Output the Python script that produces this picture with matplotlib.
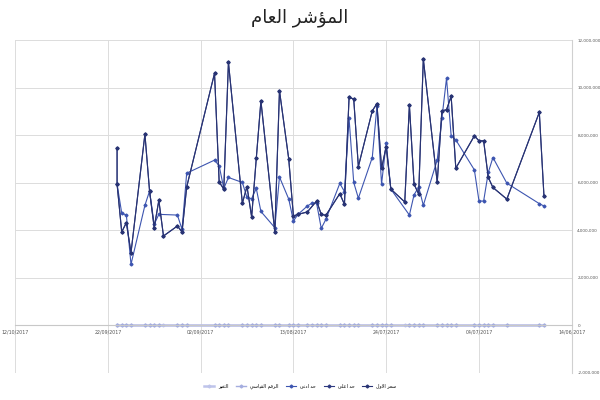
import numpy as np
import pandas as pd
import matplotlib
matplotlib.use('Agg')
from matplotlib import pyplot as plt
import matplotlib.dates as mdates
from matplotlib.ticker import FuncFormatter, MultipleLocator

# عنوان ووسيلة الإيضاح
title = 'المؤشر العام'
series_names = ['سعر الاول', 'حد اعلى', 'حد ادنى', 'الرقم القياسي', 'التغير']

# السلسلة الداكنة
dark_dates = ['2017-09-20', '2017-09-20', '2017-09-19', '2017-09-18', '2017-09-17',
              '2017-09-14', '2017-09-13', '2017-09-12', '2017-09-11', '2017-09-10',
              '2017-09-07', '2017-09-06', '2017-09-05', '2017-08-30', '2017-08-29',
              '2017-08-28', '2017-08-27', '2017-08-24', '2017-08-23', '2017-08-22',
              '2017-08-21', '2017-08-20', '2017-08-17', '2017-08-16', '2017-08-14',
              '2017-08-13', '2017-08-12', '2017-08-10', '2017-08-08', '2017-08-07',
              '2017-08-06', '2017-08-03', '2017-08-02', '2017-08-01', '2017-07-31',
              '2017-07-30', '2017-07-27', '2017-07-26', '2017-07-25', '2017-07-24',
              '2017-07-23', '2017-07-20', '2017-07-19', '2017-07-18', '2017-07-17',
              '2017-07-16', '2017-07-13', '2017-07-12', '2017-07-11', '2017-07-10',
              '2017-07-09', '2017-07-05', '2017-07-04', '2017-07-03', '2017-07-02',
              '2017-07-01', '2017-06-28', '2017-06-21', '2017-06-20']
dark_vals = [7.44, 5.94, 3.93, 4.32, 3.06, 8.04, 5.65, 4.11, 5.26, 3.76,
             4.18, 3.93, 5.82, 10.6, 6.03, 5.73, 11.06, 5.14, 5.84, 4.56,
             7.02, 9.44, 3.93, 9.87, 6.99, 4.60, 4.67, 4.77, 5.23, 4.67,
             4.63, 5.54, 5.09, 9.59, 9.52, 6.68, 9.02, 9.33, 6.60, 7.52,
             5.73, 5.19, 9.26, 5.94, 5.52, 11.2, 6.01, 9.02, 9.07, 9.63,
             6.61, 7.97, 7.76, 7.76, 6.22, 5.80, 5.31, 8.96, 5.44]

# السلسلة الزرقاء
blue_dates = ['2017-09-20', '2017-09-19', '2017-09-18', '2017-09-17', '2017-09-14',
              '2017-09-13', '2017-09-12', '2017-09-11', '2017-09-07', '2017-09-06',
              '2017-09-05', '2017-08-30', '2017-08-29', '2017-08-28', '2017-08-27',
              '2017-08-24', '2017-08-23', '2017-08-22', '2017-08-21', '2017-08-20',
              '2017-08-17', '2017-08-16', '2017-08-14', '2017-08-13', '2017-08-12',
              '2017-08-10', '2017-08-09', '2017-08-08', '2017-08-07', '2017-08-06',
              '2017-08-03', '2017-08-02', '2017-08-01', '2017-07-31', '2017-07-30',
              '2017-07-27', '2017-07-26', '2017-07-25', '2017-07-24', '2017-07-23',
              '2017-07-19', '2017-07-18', '2017-07-17', '2017-07-16', '2017-07-13',
              '2017-07-12', '2017-07-11', '2017-07-10', '2017-07-09', '2017-07-05',
              '2017-07-04', '2017-07-03', '2017-07-02', '2017-07-01', '2017-06-28',
              '2017-06-21', '2017-06-20']
blue_vals = [5.94, 4.72, 4.64, 2.57, 5.05, 5.65, 4.25, 4.67, 4.64, 4.04,
             6.40, 6.95, 6.71, 5.76, 6.22, 6.01, 5.38, 5.33, 5.76, 4.79,
             4.11, 6.24, 5.31, 4.39, 4.67, 5.02, 5.14, 5.14, 4.08, 4.46,
             5.97, 5.63, 8.70, 6.01, 5.35, 7.06, 9.21, 5.94, 7.69, 5.73,
             4.64, 5.49, 5.82, 5.05, 6.96, 8.70, 10.39, 7.97, 7.80, 6.54,
             5.23, 5.23, 6.43, 7.06, 5.98, 5.12, 5.02]

# السلاسل القريبة من الصفر
index_vals = [0] * len(dark_dates)
change_vals = [0] * len(blue_dates)

x_start = '2017-10-12'
x_end = '2017-06-14'


# تشكيل الحروف العربية (matplotlib لا يربط الحروف)
FORMS = {
    'ا': ('\uFE8D', '\uFE8E', None, None),
    'ؤ': ('\uFE85', '\uFE86', None, None),
    'ة': ('\uFE93', '\uFE94', None, None),
    'ت': ('\uFE95', '\uFE96', '\uFE97', '\uFE98'),
    'ح': ('\uFEA1', '\uFEA2', '\uFEA3', '\uFEA4'),
    'د': ('\uFEA9', '\uFEAA', None, None),
    'ر': ('\uFEAD', '\uFEAE', None, None),
    'س': ('\uFEB1', '\uFEB2', '\uFEB3', '\uFEB4'),
    'ش': ('\uFEB5', '\uFEB6', '\uFEB7', '\uFEB8'),
    'ع': ('\uFEC9', '\uFECA', '\uFECB', '\uFECC'),
    'غ': ('\uFECD', '\uFECE', '\uFECF', '\uFED0'),
    'ق': ('\uFED5', '\uFED6', '\uFED7', '\uFED8'),
    'ك': ('\uFED9', '\uFEDA', '\uFEDB', '\uFEDC'),
    'ل': ('\uFEDD', '\uFEDE', '\uFEDF', '\uFEE0'),
    'م': ('\uFEE1', '\uFEE2', '\uFEE3', '\uFEE4'),
    'ن': ('\uFEE5', '\uFEE6', '\uFEE7', '\uFEE8'),
    'و': ('\uFEED', '\uFEEE', None, None),
    'ى': ('\uFEEF', '\uFEF0', None, None),
    'ي': ('\uFEF1', '\uFEF2', '\uFEF3', '\uFEF4'),
}


def ar(text):
    out = []
    n = len(text)
    i = 0
    while i < n:
        c = text[i]
        if c not in FORMS:
            out.append(c)
            i += 1
            continue
        prev = i > 0 and text[i - 1] in FORMS and FORMS[text[i - 1]][2] is not None
        if c == 'ل' and i + 1 < n and text[i + 1] == 'ا':
            out.append('\uFEFC' if prev else '\uFEFB')
            i += 2
            continue
        nxt = i + 1 < n and text[i + 1] in FORMS and FORMS[c][2] is not None
        iso, fin, ini, med = FORMS[c]
        if prev and nxt:
            out.append(med)
        elif prev:
            out.append(fin)
        elif nxt:
            out.append(ini)
        else:
            out.append(iso)
        i += 1
    return ''.join(reversed(out))


plt.rcParams['font.family'] = ['DejaVu Sans']

fig = plt.figure(figsize=(6, 4), dpi=100)
ax = fig.add_axes([0.025, 0.0675, 0.928, 0.8325])

dd = pd.to_datetime(dark_dates, format='%Y-%m-%d')
bd = pd.to_datetime(blue_dates, format='%Y-%m-%d')
dv = np.array(dark_vals) * 1e6
bv = np.array(blue_vals) * 1e6

lines = []
lines.append(ax.plot(dd, index_vals, color='#BEC4EA', lw=1.8,
                     marker='D', ms=1.5, label=ar(series_names[4]), zorder=2)[0])
lines.append(ax.plot(bd, change_vals, color='#A4ADDF', lw=1.0,
                     marker='D', ms=1.5, label=ar(series_names[3]), zorder=2)[0])
lines.append(ax.plot(bd, bv, color='#3D55B0', lw=0.8,
                     marker='D', ms=1.5, label=ar(series_names[2]), zorder=3)[0])
lines.append(ax.plot(dd, dv, color='#2E3A80', lw=0.8,
                     marker='D', ms=1.5, label=ar(series_names[1]), zorder=4)[0])
lines.append(ax.plot(dd, dv, color='#283373', lw=0.8,
                     marker='D', ms=1.5, label=ar(series_names[0]), zorder=4)[0])

ax.set_xlim(pd.Timestamp(x_start), pd.Timestamp(x_end))
ax.set_ylim(-2e6, 12e6)

ax.yaxis.set_major_locator(MultipleLocator(2e6))
ax.yaxis.set_major_formatter(FuncFormatter(lambda v, p: '{:,.0f}'.format(v)))
ax.yaxis.tick_right()

ticks = pd.date_range(end=pd.Timestamp(x_start), periods=7, freq='20D')
ax.set_xticks(ticks)
ax.xaxis.set_major_formatter(mdates.DateFormatter('%d/%m/%Y'))

ax.grid(True, color='#DCDCDC', lw=0.7)
ax.set_axisbelow(True)
ax.tick_params(axis='x', labelsize=3.4, colors='#555555', length=0, pad=3)
ax.tick_params(axis='y', labelsize=3.0, colors='#555555', length=0, pad=4)
for s in ['left', 'top']:
    ax.spines[s].set_visible(False)
ax.spines['right'].set_color('#D0D0D0')
ax.spines['bottom'].set_position(('data', 0))
ax.spines['bottom'].set_color('#C8C8C8')

fig.text(0.5, 0.955, ar(title), ha='center', va='center', fontsize=13, color='#222222')

fig.legend(handles=lines, loc='center', bbox_to_anchor=(0.5, 0.035), ncol=5,
           fontsize=3.4, frameon=False, handlelength=2.2, columnspacing=1.6,
           markerscale=1.0)

fig.savefig('out.png', dpi=100)
